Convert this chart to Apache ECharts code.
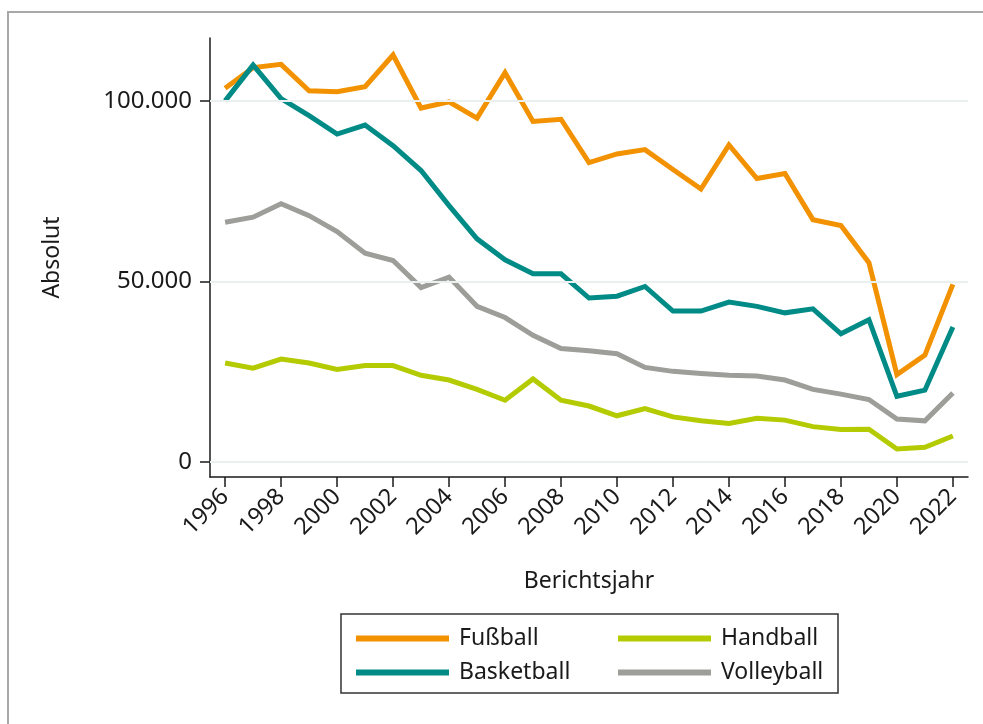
<!DOCTYPE html>
<html>
<head>
<meta charset="utf-8">
<script src="https://cdn.jsdelivr.net/npm/echarts@6/dist/echarts.min.js"></script>
<style>
  html, body { margin: 0; padding: 0; background: #fff; }
  #chart { width: 983px; height: 724px; }
</style>
</head>
<body>
<div id="chart"></div>
<script>
var years = [1996,1997,1998,1999,2000,2001,2002,2003,2004,2005,2006,2007,2008,2009,2010,2011,2012,2013,2014,2015,2016,2017,2018,2019,2020,2021,2022];
var xTicks = [1996,1998,2000,2002,2004,2006,2008,2010,2012,2014,2016,2018,2020,2022];
var yTicks = [0, 50000, 100000];

var fussball   = [103500,109200,110100,102800,102500,103900,112700,98000,99700,95200,107800,94300,94900,82900,85300,86500,81000,75600,87800,78500,79900,67100,65500,55200,24200,29600,49200];
var basketball = [100000,109900,100600,95900,90800,93300,87600,80700,71000,61800,56000,52100,52100,45400,45900,48600,41800,41800,44300,43100,41300,42400,35500,39400,18200,19900,37400];
var handball   = [27400,26000,28500,27400,25600,26700,26700,24000,22700,20100,17100,23000,17100,15500,12800,14800,12500,11400,10700,12100,11600,9800,9000,9100,3600,4100,7200];
var volleyball = [66400,67800,71500,68200,63800,57800,55800,48300,51200,43100,40000,35100,31400,30800,30000,26200,25100,24500,24000,23800,22700,20100,18800,17300,11900,11400,19100];

var FONT = '"Noto Sans", "Open Sans", sans-serif';

function pairs(arr) {
    var out = [];
    for (var i = 0; i < years.length; i++) {
        out.push([years[i], arr[i]]);
    }
    return out;
}

function fmtThousands(v) {
    return String(v).replace(/\B(?=(\d{3})+(?!\d))/g, '.');
}

function lineSeries(name, arr, color) {
    return {
        name: name,
        type: 'line',
        data: pairs(arr),
        showSymbol: false,
        symbol: 'none',
        z: 3,
        lineStyle: { color: color, width: 5, join: 'miter' },
        itemStyle: { color: color },
        animation: false
    };
}

var gridLines = [];
for (var i = 0; i < yTicks.length; i++) {
    gridLines.push({ yAxis: yTicks[i] });
}

var chart = echarts.init(document.getElementById('chart'));
var option = {
    backgroundColor: '#ffffff',
    animation: false,
    textStyle: { fontFamily: FONT },
    graphic: [{
        type: 'rect',
        shape: { x: 8, y: 12, width: 1000, height: 760 },
        style: { fill: 'none', stroke: '#a8a8a8', lineWidth: 2 },
        z: -1
    }, {
        type: 'rect',
        shape: { x: 341, y: 614, width: 497, height: 79 },
        style: { fill: 'none', stroke: '#333', lineWidth: 1.5 }
    }],
    grid: { left: 210, right: 15, top: 38, bottom: 247 },
    xAxis: {
        type: 'value',
        min: 1995.46,
        max: 2022.54,
        name: 'Berichtsjahr',
        nameLocation: 'middle',
        nameGap: 93,
        nameTextStyle: { fontSize: 23, color: '#1a1a1a', fontFamily: FONT },
        axisLine: { show: true, onZero: false, lineStyle: { color: '#1a1a1a', width: 1.5 } },
        axisTick: { show: true, length: 10, customValues: xTicks, lineStyle: { color: '#1a1a1a', width: 1.5 } },
        axisLabel: {
            customValues: xTicks,
            rotate: 45,
            margin: 16,
            fontSize: 23.5,
            color: '#1a1a1a',
            fontFamily: FONT,
            formatter: function (v) { return String(v); }
        },
        splitLine: { show: false }
    },
    yAxis: {
        type: 'value',
        min: -4150,
        max: 117400,
        name: 'Absolut',
        nameLocation: 'middle',
        nameRotate: 90,
        nameGap: 146,
        nameTextStyle: { fontSize: 23, color: '#1a1a1a', fontFamily: FONT },
        axisLine: { show: true, onZero: false, lineStyle: { color: '#1a1a1a', width: 1.5 } },
        axisTick: { show: true, length: 10, customValues: yTicks, lineStyle: { color: '#1a1a1a', width: 1.5 } },
        axisLabel: {
            customValues: yTicks,
            margin: 18,
            fontSize: 24,
            color: '#1a1a1a',
            fontFamily: FONT,
            formatter: function (v) { return fmtThousands(v); }
        },
        splitLine: { show: false }
    },
    legend: [{
        data: ['Fußball', 'Basketball'],
        orient: 'vertical',
        left: 351,
        top: 622,
        icon: 'rect',
        itemWidth: 93,
        itemHeight: 6,
        itemGap: 11,
        selectedMode: false,
        textStyle: { fontSize: 23, lineHeight: 23, color: '#1a1a1a', fontFamily: FONT, padding: [0, 0, 0, 5] }
    }, {
        data: ['Handball', 'Volleyball'],
        orient: 'vertical',
        left: 613,
        top: 622,
        icon: 'rect',
        itemWidth: 93,
        itemHeight: 6,
        itemGap: 11,
        selectedMode: false,
        textStyle: { fontSize: 23, lineHeight: 23, color: '#1a1a1a', fontFamily: FONT, padding: [0, 0, 0, 5] }
    }],
    series: [
        {
            name: 'grid',
            type: 'line',
            data: [],
            z: 1,
            silent: true,
            markLine: {
                silent: true,
                symbol: 'none',
                label: { show: false },
                lineStyle: { color: '#e9f0ef', width: 2, type: 'solid' },
                data: gridLines,
                animation: false
            }
        },
        lineSeries('Fußball', fussball, '#f39200'),
        lineSeries('Basketball', basketball, '#008b87'),
        lineSeries('Handball', handball, '#b3cb00'),
        lineSeries('Volleyball', volleyball, '#9d9d99')
    ]
};
chart.setOption(option);
</script>
</body>
</html>
